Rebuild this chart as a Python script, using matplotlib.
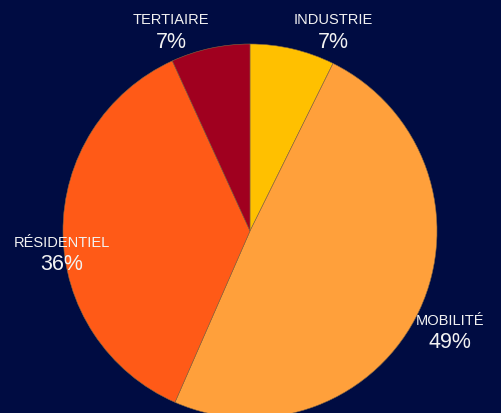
import matplotlib.pyplot as plt

# secteurs et parts (%)
secteurs = ["INDUSTRIE", "MOBILITÉ", "RÉSIDENTIEL", "TERTIAIRE"]
parts = [7.3, 49.1, 36.5, 6.8]
couleurs = ["#FFC000", "#FFA03B", "#FF5A17", "#A0001F"]

fond = "#000C42"
W, H = 501, 414
cx, cy, R = 250, 232, 187  # centre / rayon en pixels

# position des etiquettes (pixels, origine en haut a gauche)
pos_etiq = [(333, 31), (450, 332), (62, 254), (171, 31)]

fig = plt.figure(figsize=(W / 100, H / 100), dpi=100)
fig.patch.set_facecolor(fond)
ax = fig.add_axes([0, 0, 1, 1])
ax.set_facecolor(fond)

ax.pie(parts, colors=couleurs, startangle=90, counterclock=False,
       radius=1, center=(0, 0),
       wedgeprops=dict(edgecolor="#8a6a40", linewidth=0.4))

ax.set_xlim(-cx / R, (W - cx) / R)
ax.set_ylim(-(H - cy) / R, cy / R)
ax.set_aspect("equal")
ax.axis("off")

for nom, p, (px, py) in zip(secteurs, parts, pos_etiq):
    x = (px - cx) / R
    y = (cy - py) / R
    ax.text(x, y + 11 / R, nom, ha="center", va="center", color="#F2F2F2",
            fontsize=10.5, family="Liberation Sans")
    ax.text(x, y - 11 / R, "%d%%" % round(p), ha="center", va="center",
            color="#F2F2F2", fontsize=15.5, family="Liberation Sans")

fig.savefig("out.png", dpi=100, facecolor=fond)
